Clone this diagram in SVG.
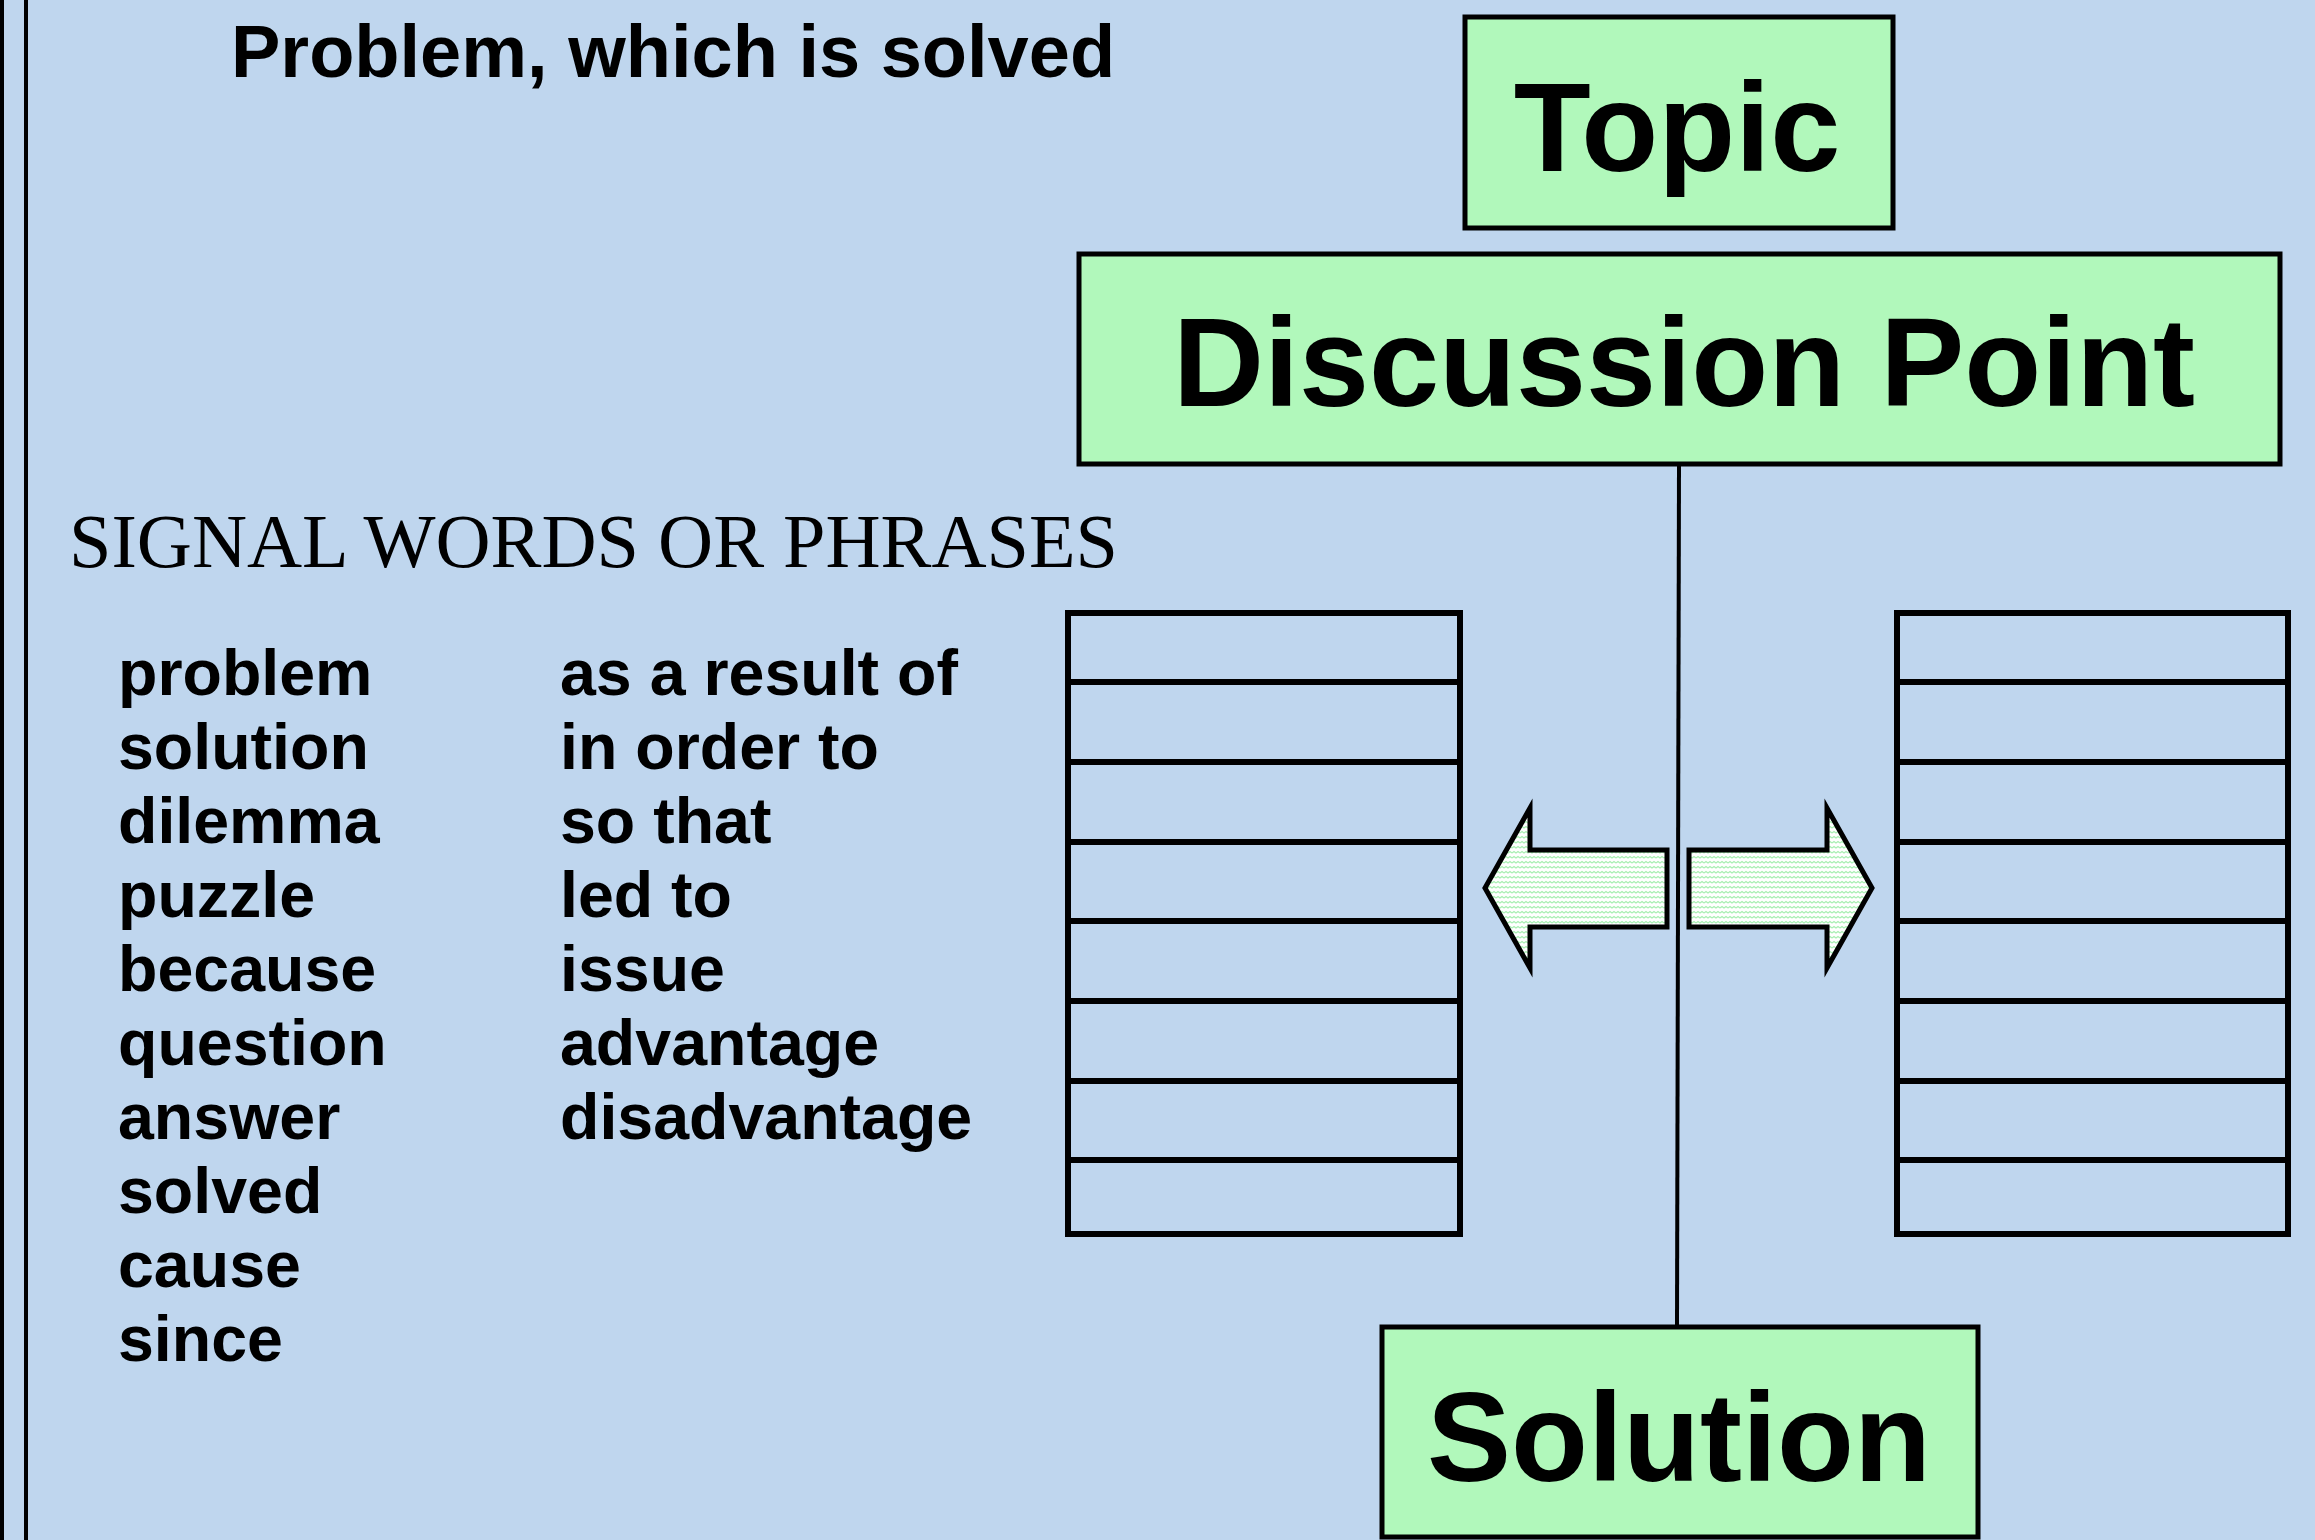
<svg xmlns="http://www.w3.org/2000/svg" width="2315" height="1540" viewBox="0 0 2315 1540">
<defs>
<style>
.bg{fill:#bfd6ee}
.box{fill:#b1f8bb;stroke:#000;stroke-width:5}
.lbl{font-family:"Liberation Sans",Arial,sans-serif;font-weight:bold;font-size:126px;fill:#000;text-anchor:middle}
.title{font-family:"Liberation Sans",Arial,sans-serif;font-weight:bold;font-size:74px;fill:#000}
.serif{font-family:"Liberation Serif","Times New Roman",serif;font-size:76px;fill:#000}
.word{font-family:"Liberation Sans",Arial,sans-serif;font-weight:bold;font-size:64.5px;fill:#000}
.grid{fill:none;stroke:#000;stroke-width:6}
.rule{stroke:#000;stroke-width:6}
.arrow{fill:url(#wave);stroke:#000;stroke-width:5;stroke-linejoin:miter}
.conn{stroke:#000;stroke-width:4;fill:none}
.border{stroke:#000;stroke-width:4}
</style>
<pattern id="wave" width="8" height="5" patternUnits="userSpaceOnUse">
<rect width="8" height="5" fill="#fff"/>
<path d="M0,3 L2,1.5 L4,3 L6,1.5 L8,3" fill="none" stroke="#a8efb2" stroke-width="1.2"/>
</pattern>
</defs>
<rect class="bg" x="0" y="0" width="2315" height="1540"/>
<line class="border" x1="2" y1="0" x2="2" y2="1540"/>
<line class="border" x1="26" y1="0" x2="26" y2="1540"/>

<g id="title">
<text class="title" x="231" y="77">Problem, which is solved</text>
</g>

<g id="signal-words">
<text class="serif" x="69" y="567" textLength="1049" lengthAdjust="spacingAndGlyphs">SIGNAL WORDS OR PHRASES</text>
<text class="word" x="118" y="695">problem</text>
<text class="word" x="118" y="769">solution</text>
<text class="word" x="118" y="843">dilemma</text>
<text class="word" x="118" y="917">puzzle</text>
<text class="word" x="118" y="991">because</text>
<text class="word" x="118" y="1065">question</text>
<text class="word" x="118" y="1139">answer</text>
<text class="word" x="118" y="1213">solved</text>
<text class="word" x="118" y="1287">cause</text>
<text class="word" x="118" y="1361">since</text>
<text class="word" x="560" y="695">as a result of</text>
<text class="word" x="560" y="769">in order to</text>
<text class="word" x="560" y="843">so that</text>
<text class="word" x="560" y="917">led to</text>
<text class="word" x="560" y="991">issue</text>
<text class="word" x="560" y="1065">advantage</text>
<text class="word" x="560" y="1139">disadvantage</text>
</g>

<g id="connectors">
<line class="conn" x1="1679" y1="464" x2="1677" y2="1327"/>
</g>

<g id="topic">
<rect class="box" x="1465" y="17" width="428" height="211"/>
<text class="lbl" x="1677" y="171" font-size="130">Topic</text>
</g>

<g id="discussion-point">
<rect class="box" x="1079" y="254" width="1201" height="210"/>
<text class="lbl" x="1684" y="406">Discussion Point</text>
</g>

<g id="solution">
<rect class="box" x="1382" y="1327" width="596" height="210"/>
<text class="lbl" x="1679" y="1481" font-size="127">Solution</text>
</g>

<g id="left-list">
<rect class="grid" x="1068" y="613" width="392" height="621"/>
<line class="rule" x1="1068" y1="682" x2="1460" y2="682"/>
<line class="rule" x1="1068" y1="762" x2="1460" y2="762"/>
<line class="rule" x1="1068" y1="842" x2="1460" y2="842"/>
<line class="rule" x1="1068" y1="921" x2="1460" y2="921"/>
<line class="rule" x1="1068" y1="1001" x2="1460" y2="1001"/>
<line class="rule" x1="1068" y1="1081" x2="1460" y2="1081"/>
<line class="rule" x1="1068" y1="1160" x2="1460" y2="1160"/>
</g>

<g id="right-list">
<rect class="grid" x="1897" y="613" width="391" height="621"/>
<line class="rule" x1="1897" y1="682" x2="2288" y2="682"/>
<line class="rule" x1="1897" y1="762" x2="2288" y2="762"/>
<line class="rule" x1="1897" y1="842" x2="2288" y2="842"/>
<line class="rule" x1="1897" y1="921" x2="2288" y2="921"/>
<line class="rule" x1="1897" y1="1001" x2="2288" y2="1001"/>
<line class="rule" x1="1897" y1="1081" x2="2288" y2="1081"/>
<line class="rule" x1="1897" y1="1160" x2="2288" y2="1160"/>
</g>

<g id="arrow-left">
<polygon class="arrow" points="1485,888 1530,808 1530,850 1667,850 1667,927 1530,927 1530,968"/>
</g>

<g id="arrow-right">
<polygon class="arrow" points="1872,888 1827,808 1827,850 1689,850 1689,927 1827,927 1827,968"/>
</g>
</svg>
